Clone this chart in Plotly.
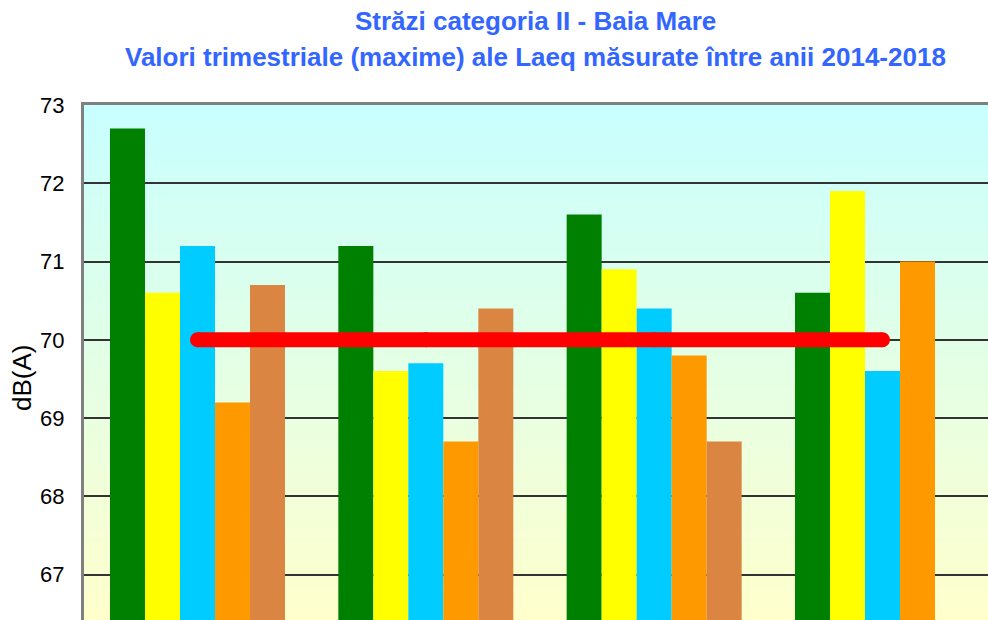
import plotly.graph_objects as go

categories = ["Trim. I", "Trim. II", "Trim. III", "Trim. IV"]
years = ["2014", "2015", "2016", "2017", "2018"]
values_2014 = [72.7, 71.2, 71.6, 70.6]
values_2015 = [70.6, 69.6, 70.9, 71.9]
values_2016 = [71.2, 69.7, 70.4, 69.6]
values_2017 = [69.2, 68.7, 69.8, 71.0]
values_2018 = [70.7, 70.4, 68.7, None]
limit_values = [70, 70, 70, 70]
y_ticks = [67, 68, 69, 70, 71, 72, 73]
title_line1 = "Străzi categoria II - Baia Mare"
title_line2 = "Valori trimestriale (maxime) ale Laeq măsurate între anii 2014-2018"
y_title = "dB(A)"

series = [values_2014, values_2015, values_2016, values_2017, values_2018]
colors = ["#008000", "#FFFF00", "#00CCFF", "#FF9900", "#DA8642"]

fig = go.Figure()
for name, vals, col in zip(years, series, colors):
    fig.add_trace(go.Bar(x=categories, y=vals, name=name,
                         marker=dict(color=col, line=dict(width=0)),
                         showlegend=False))

fig.add_trace(go.Scatter(x=categories, y=limit_values, mode="lines+markers",
                         line=dict(color="#FF0000", width=15),
                         marker=dict(color="#FF0000", size=15),
                         showlegend=False, name="Limita"))

# vertical gradient background (cyan at top to pale yellow at bottom)
shapes = []
n = 80
top = (0xC8, 0xFF, 0xFF)
bot = (0xFF, 0xFF, 0xCC)
for i in range(n):
    t = (i + 0.5) / n
    r = round(bot[0] + (top[0] - bot[0]) * t)
    g = round(bot[1] + (top[1] - bot[1]) * t)
    b = round(bot[2] + (top[2] - bot[2]) * t)
    shapes.append(dict(type="rect", xref="paper", yref="paper",
                       x0=0, x1=1, y0=i / n, y1=(i + 1) / n + 0.002,
                       fillcolor=f"rgb({r},{g},{b})", line=dict(width=0),
                       layer="below"))

title_font = dict(size=26, color="#3366FF", family="Liberation Sans, Arial, sans-serif", weight="bold")
annotations = [
    dict(text=title_line1, xref="paper", yref="paper", x=0.4989, y=1.1630,
         xanchor="center", yanchor="middle", showarrow=False, font=title_font),
    dict(text=title_line2, xref="paper", yref="paper", x=0.4989, y=1.0932,
         xanchor="center", yanchor="middle", showarrow=False, font=title_font),
    dict(text=y_title, xref="paper", yref="paper", x=-0.0686, y=0.4699,
         xanchor="center", yanchor="middle", showarrow=False, textangle=-90,
         font=dict(size=26, color="black", family="Liberation Sans, Arial, sans-serif")),
]

fig.update_layout(
    width=988, height=620,
    margin=dict(l=84, r=0, t=105, b=0, pad=0),
    paper_bgcolor="white", plot_bgcolor="rgba(0,0,0,0)",
    barmode="group", bargap=0.2336, bargroupgap=0,
    shapes=shapes, annotations=annotations,
    font=dict(family="Liberation Sans, Arial, sans-serif", color="black"),
    xaxis=dict(range=[-0.497, 3.462], showticklabels=False, ticks="",
               showgrid=False, showline=True, mirror=True, automargin=False,
               linecolor="#808080", linewidth=3, zeroline=False),
    yaxis=dict(range=[66.42, 73], tickvals=y_ticks, ticks="outside",
               ticklen=12, tickcolor="rgba(0,0,0,0)", automargin=False,
               tickfont=dict(size=22, color="black"),
               showgrid=True, gridcolor="#333333", gridwidth=1.5,
               showline=True, linecolor="#808080", linewidth=3,
               zeroline=False),
)

fig.write_html("out.html", config={"displayModeBar": False},
               post_script="document.body.style.margin='0';")
